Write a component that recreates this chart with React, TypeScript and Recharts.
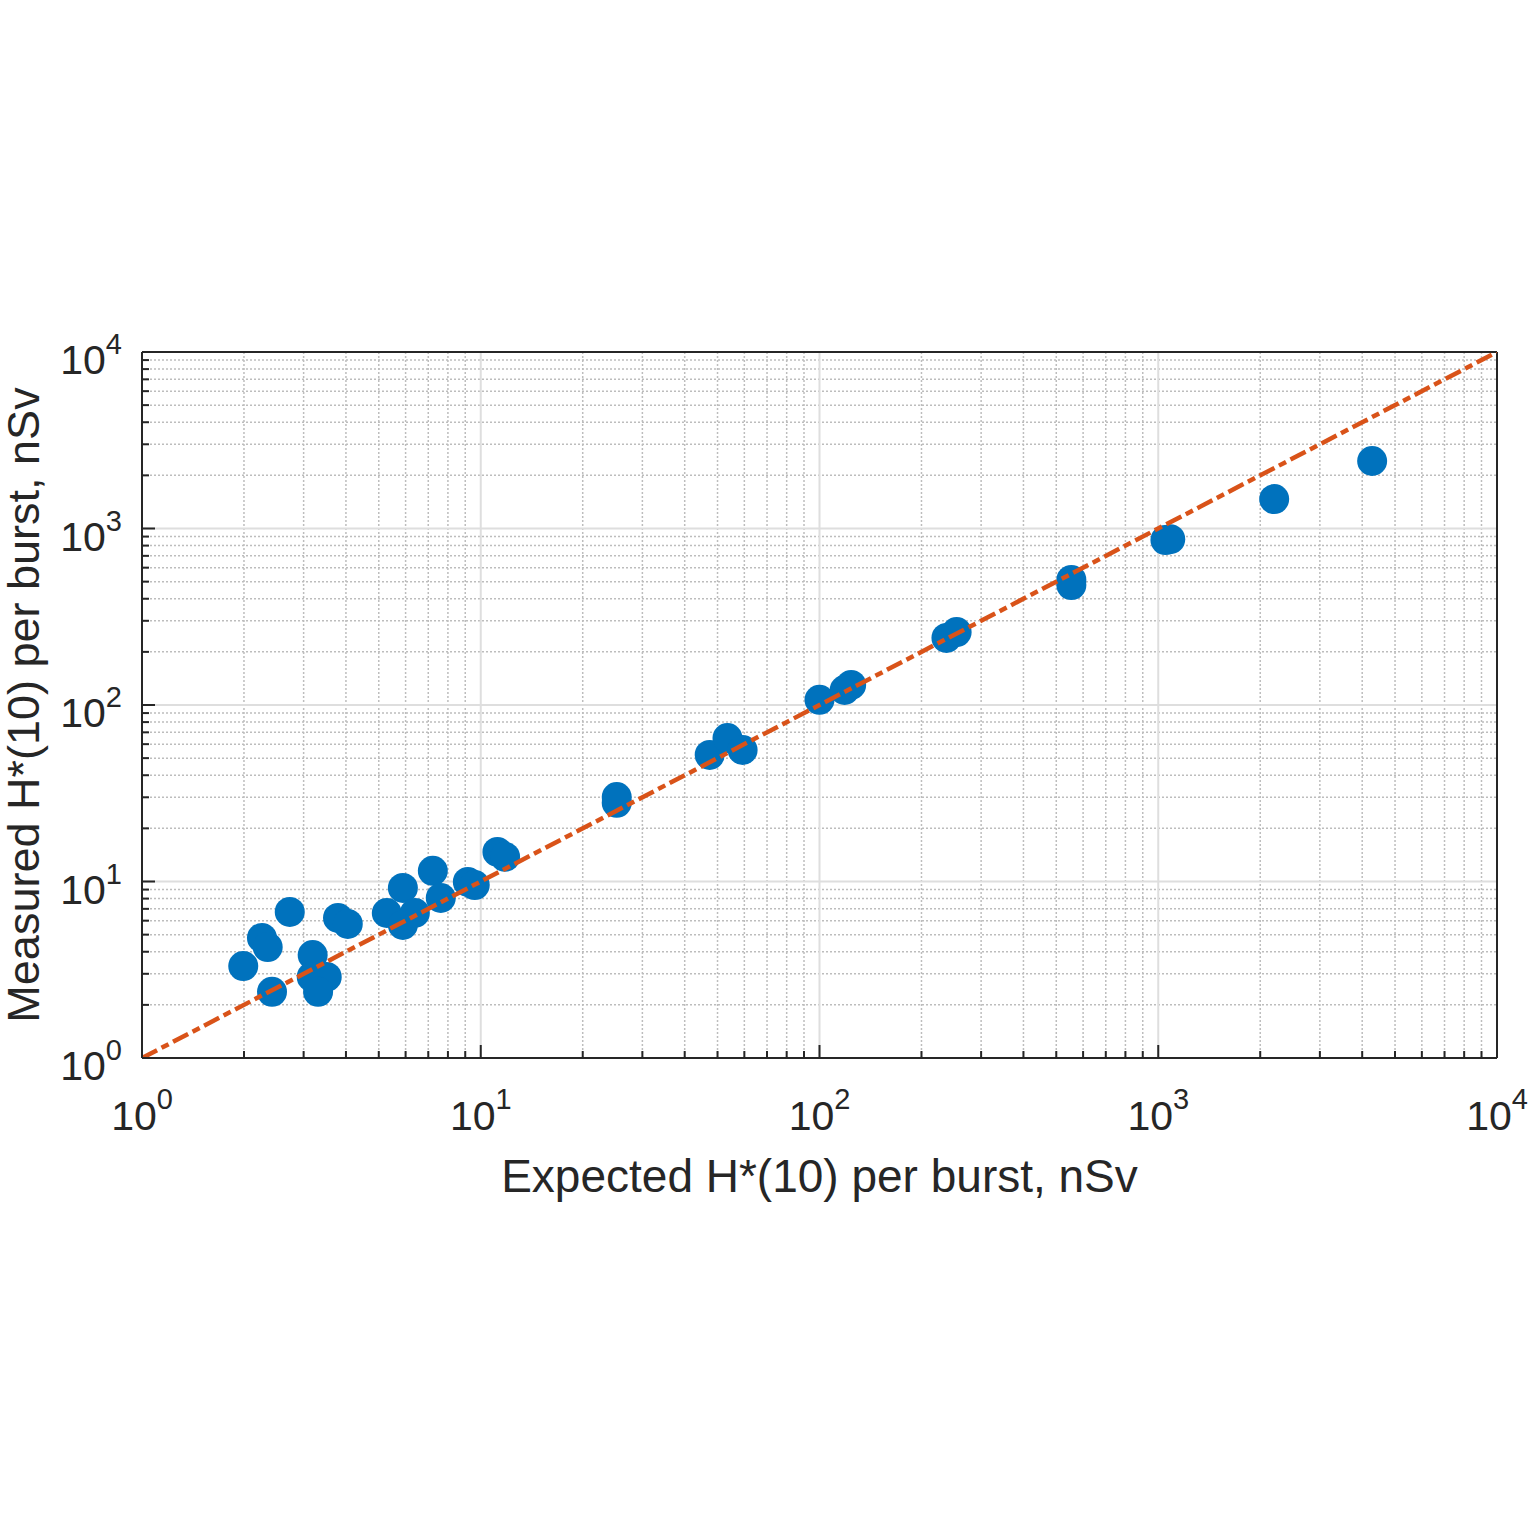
import React from "react";
import { ScatterChart, Scatter, XAxis, YAxis, ReferenceLine } from "recharts";

// expected vs measured H*(10) per burst, nSv
const expected = [
  1.99, 2.26, 2.35, 2.42, 2.73, 3.19, 3.17, 3.51, 3.31, 3.79, 4.05, 5.28, 5.89, 5.89,
  6.39, 7.22, 7.62, 9.16, 9.6, 11.2, 11.8, 25.2, 25.2, 47.4, 53.5, 59.3, 100, 118.6,
  124, 237, 254, 554, 554, 1050, 1085, 2199, 4280,
];
const measured = [
  3.32, 4.79, 4.25, 2.37, 6.72, 3.83, 2.88, 2.88, 2.37, 6.22, 5.75, 6.63, 9.19, 5.67,
  6.63, 11.5, 8.07, 9.94, 9.55, 14.7, 13.8, 30.1, 27.9, 52.1, 65.0, 55.6, 107, 121.6,
  130, 240, 259, 511, 478, 860, 870, 1469, 2412,
];

// y = x reference line
const identityX = [1, 10000];
const identityY = [1, 10000];

const decades = [1, 10, 100, 1000, 10000];
const exponents = ["0", "1", "2", "3", "4"];
const minorSteps = [2, 3, 4, 5, 6, 7, 8, 9];

const points = expected.map((x, i) => ({ x, y: measured[i] }));
const identity = identityX.map((x, i) => ({ x, y: identityY[i] }));
const minorTicks = decades.slice(0, -1).flatMap((d) => minorSteps.map((m) => d * m));
const allTicks = [...decades, ...minorTicks].sort((a, b) => a - b);

const AXIS = "#262626";
const BLUE = "#0072BD";
const ORANGE = "#D95319";
const FONT = "'Liberation Sans', Arial, Helvetica, sans-serif";
const MAJOR_LEN = 13;
const MINOR_LEN = 7;

const isMajor = (v: number) => decades.includes(v);
const expOf = (v: number) => exponents[decades.indexOf(v)];

function BottomTick({ x, y, payload }: any) {
  const v = payload.value;
  const major = isMajor(v);
  return (
    <g>
      <line x1={x} x2={x} y1={y} y2={y - (major ? MAJOR_LEN : MINOR_LEN)} stroke={AXIS} strokeWidth={2} />
      {major && (
        <text x={x} y={y + 72} textAnchor="middle" fontFamily={FONT} fontSize={41} fill={AXIS}>
          10
          <tspan dy={-21} fontSize={29}>
            {expOf(v)}
          </tspan>
        </text>
      )}
    </g>
  );
}

function TopTick({ x, y, payload }: any) {
  const major = isMajor(payload.value);
  return <line x1={x} x2={x} y1={y} y2={y + (major ? MAJOR_LEN : MINOR_LEN)} stroke={AXIS} strokeWidth={2} />;
}

function LeftTick({ x, y, payload }: any) {
  const v = payload.value;
  const major = isMajor(v);
  return (
    <g>
      <line x1={x} x2={x + (major ? MAJOR_LEN : MINOR_LEN)} y1={y} y2={y} stroke={AXIS} strokeWidth={2} />
      {major && (
        <text x={x - 20} y={y + 22} textAnchor="end" fontFamily={FONT} fontSize={41} fill={AXIS}>
          10
          <tspan dy={-20} fontSize={29}>
            {expOf(v)}
          </tspan>
        </text>
      )}
    </g>
  );
}

function RightTick({ x, y, payload }: any) {
  const major = isMajor(payload.value);
  return <line x1={x} x2={x - (major ? MAJOR_LEN : MINOR_LEN)} y1={y} y2={y} stroke={AXIS} strokeWidth={2} />;
}

const Dot = (props: any) => <circle cx={props.cx} cy={props.cy} r={15} fill={BLUE} />;
const NoDot = () => <g />;

const logAxis = {
  type: "number" as const,
  scale: "log" as const,
  domain: [1, 10000],
  allowDataOverflow: true,
  ticks: allTicks,
  interval: 0 as const,
  tickLine: false,
  tickSize: 0,
  tickMargin: 0,
  axisLine: { stroke: AXIS, strokeWidth: 2 },
};

export default function App() {
  return (
    <div style={{ width: 1531, height: 1531, background: "#fff", overflow: "hidden" }}>
      <style>{"body{margin:0;overflow:hidden}"}</style>
      <ScatterChart width={1531} height={1531} margin={{ top: 352, right: 34, bottom: 339, left: 8 }}>
        <XAxis
          {...logAxis}
          dataKey="x"
          height={134}
          tick={<BottomTick />}
          label={{
            value: "Expected H*(10) per burst, nSv",
            position: "insideBottom",
            offset: 0,
            fontSize: 46,
            fontFamily: FONT,
            fill: AXIS,
          }}
        />
        <XAxis {...logAxis} xAxisId="top" orientation="top" height={0} tick={<TopTick />} />
        <YAxis
          {...logAxis}
          dataKey="y"
          width={134}
          tick={<LeftTick />}
          label={{
            value: "Measured H*(10) per burst, nSv",
            angle: -90,
            position: "insideLeft",
            offset: 15,
            fontSize: 45,
            fontFamily: FONT,
            fill: AXIS,
            style: { textAnchor: "middle" },
          }}
        />
        <YAxis {...logAxis} yAxisId="right" orientation="right" width={0} tick={<RightTick />} />

        {minorTicks.map((v) => (
          <ReferenceLine key={`mx${v}`} x={v} stroke="#bdbdbd" strokeWidth={1.5} strokeDasharray="2 2" zIndex={-100} />
        ))}
        {minorTicks.map((v) => (
          <ReferenceLine key={`my${v}`} y={v} stroke="#bdbdbd" strokeWidth={1.5} strokeDasharray="2 2" zIndex={-100} />
        ))}
        {decades.slice(1, -1).map((v) => (
          <ReferenceLine key={`Mx${v}`} x={v} stroke="#dedede" strokeWidth={2} zIndex={-100} />
        ))}
        {decades.slice(1, -1).map((v) => (
          <ReferenceLine key={`My${v}`} y={v} stroke="#dedede" strokeWidth={2} zIndex={-100} />
        ))}
        {/* box edges at the top and right */}
        <ReferenceLine x={decades[decades.length - 1]} stroke={AXIS} strokeWidth={2} />
        <ReferenceLine y={decades[decades.length - 1]} stroke={AXIS} strokeWidth={2} />

        <Scatter data={points} shape={Dot} isAnimationActive={false} />
        <Scatter
          data={identity}
          shape={NoDot}
          line={{ stroke: ORANGE, strokeWidth: 4.5, strokeDasharray: "17 5 8 5" }}
          isAnimationActive={false}
        />
      </ScatterChart>
    </div>
  );
}
